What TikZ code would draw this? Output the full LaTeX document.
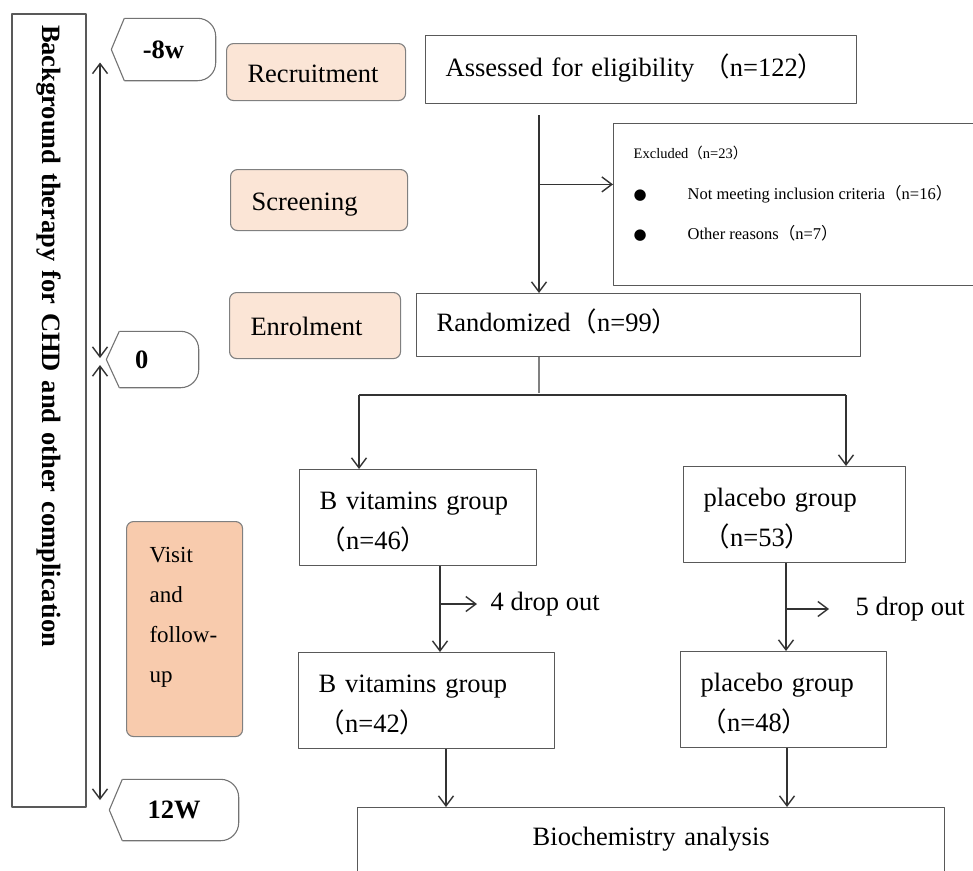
\documentclass[tikz,border=0pt]{standalone}
\usepackage{fontspec}
\setmainfont{Liberation Serif}
\newfontfamily\cjk{Noto Sans CJK SC}
\newfontfamily\symf{DejaVu Sans}
\usetikzlibrary{arrows.meta,calc}
\definecolor{peach}{HTML}{FBE5D6}
\definecolor{peachdark}{HTML}{F8CBAD}
\newcommand\lp{{\cjk （}}
\newcommand\rp{{\cjk ）}}
\newcommand\bul{\makebox[54pt][l]{\symf\fontsize{15}{15}\selectfont ●}}
\newcommand\tagline[1]{%
\draw[tagedge,rounded corners=18pt] ([xshift=13pt]#1.north west) -- (#1.north east) -- (#1.south east) -- ([xshift=13pt]#1.south west);
\draw[tagedge] ([xshift=13pt]#1.north west) -- (#1.west) -- ([xshift=13pt]#1.south west);}
\begin{document}
\begin{tikzpicture}[x=1pt,y=-1pt,line width=1.4pt,line join=round,>={Straight Barb[length=10pt,width=15pt]},
every node/.style={font=\fontsize{26.5}{40}\selectfont,inner ysep=0pt},
box/.style={draw=black!65,anchor=north west,align=left,inner xsep=20pt},
one/.style={box,text height=19pt,text depth=6pt},
two/.style={box,text height=20pt,text depth=37pt,inner ysep=19.5pt},
stage/.style={draw=black!50,line width=1.1pt,rounded corners=7pt,fill=peach,anchor=north west,align=left,inner xsep=21pt,text height=23pt,text depth=3pt},
tag/.style={font=\bfseries\fontsize{26.5}{30}\selectfont},
tagedge/.style={draw=black!55,line width=1.1pt},
flow/.style={black!80}]
\useasboundingbox (0,0) rectangle (973,870);
\clip (0,0) rectangle (973,870);
\node (bg)[draw=black!65,line width=1.1pt,rotate=-90,minimum width=793pt,minimum height=74pt,text width=771pt,align=left,inner xsep=11pt,font=\bfseries\fontsize{26.5}{30}\selectfont] at (49,410.5) {Background therapy for CHD and other complication};
\node (w8)[tag,minimum width=103pt,minimum height=61pt] at (163.5,49.5) {-8w};
\node (w0)[tag,minimum height=55pt,text width=35pt,align=left,inner xsep=28pt] at (152.5,359.5) {0};
\node (w12)[tag,minimum width=128pt,minimum height=60pt] at (174,810) {12W};
\tagline{w8}
\tagline{w0}
\tagline{w12}
\coordinate (ax) at (100,0);
\draw[<->,flow] ($(w8.center -| ax)+(0,13)$) -- ($(w0.center -| ax)+(0,-1.5)$);
\draw[<->,flow] ($(w0.center -| ax)+(0,5.5)$) -- ($(w12.center -| ax)+(0,-10)$);
\node (rec)[stage,text width=137pt,minimum height=57pt] at (226,43) {Recruitment};
\node (scr)[stage,text width=135pt,minimum height=61pt] at (230,169) {Screening};
\node (enr)[stage,text width=129pt,minimum height=66pt] at (229,292) {Enrolment};
\node (visit)[stage,fill=peachdark,text width=70pt,inner xsep=23pt,minimum height=215pt,text height=20pt,text depth=153pt,font=\fontsize{23}{40}\selectfont] at (126,521) {Visit\\and\\follow-\\up};
\node (asse)[one,text width=391pt,minimum height=68pt] at (425,35) {Assessed for eligibility \lp n=122\rp};
\node (excl)[box,minimum width=400pt,minimum height=162pt] at (613,123) {};
\node (exhead)[anchor=base west,inner sep=0pt,font=\fontsize{14.5}{16}\selectfont] at (633,158) {Excluded\lp n=23\rp};
\node (exa)[anchor=base west,inner sep=0pt,font=\fontsize{16.5}{18}\selectfont] at (633,199) {\bul Not meeting inclusion criteria\lp n=16\rp};
\node (exb)[anchor=base west,inner sep=0pt,font=\fontsize{16.5}{18}\selectfont] at (633,239) {\bul Other reasons\lp n=7\rp};
\node (rand)[one,text width=404pt,minimum height=63pt] at (416,293) {Randomized\lp n=99\rp};
\node (b1)[two,text width=197pt] at (299,469) {B vitamins group\\\lp n=46\rp};
\node (p1)[two,text width=182pt] at (683,466) {placebo group\\\lp n=53\rp};
\node (b2)[two,text width=216pt] at (298,652) {B vitamins group\\\lp n=42\rp};
\node (p2)[two,text width=166pt] at (680,651) {placebo group\\\lp n=48\rp};
\node (bio)[box,align=center,text width=547pt,text height=19pt,text depth=26pt,minimum height=83pt] at (357,807) {Biochemistry analysis};
\node (db)[anchor=west,inner xsep=13pt] at (477,604) {4 drop out};
\node (dp)[anchor=west,inner xsep=26pt] at (829,609) {5 drop out};
\coordinate (tr) at (539,0);
\coordinate (exj) at ($(asse.south -| tr)+(0,80)$);
\draw[->,flow] ($(asse.south -| tr)+(0,11)$) -- (rand.north -| tr);
\draw[->,flow] (exj) -- (exj -| excl.west);
\draw[black!50] (rand.south -| tr) -- ++(0,36);
\coordinate (sl) at (359,395);
\coordinate (sr) at (846,395);
\draw[flow] (sl) -- (sr);
\draw[->,flow] (sl) -- (sl |- b1.north);
\draw[->,flow] (sr) -- (sr |- p1.north);
\coordinate (xb) at (440,0);
\coordinate (xp) at (786,0);
\draw[->,flow] (b1.south -| xb) -- (b2.north -| xb);
\draw[->,flow] (db.west -| xb) -- (db.west);
\draw[->,flow] (p1.south -| xp) -- (p2.north -| xp);
\draw[->,flow] (dp.west -| xp) -- (dp.west);
\coordinate (xl) at (446,0);
\coordinate (xr) at (787,0);
\draw[->,flow] (b2.south -| xl) -- (bio.north -| xl);
\draw[->,flow] (p2.south -| xr) -- (bio.north -| xr);
\end{tikzpicture}
\end{document}
